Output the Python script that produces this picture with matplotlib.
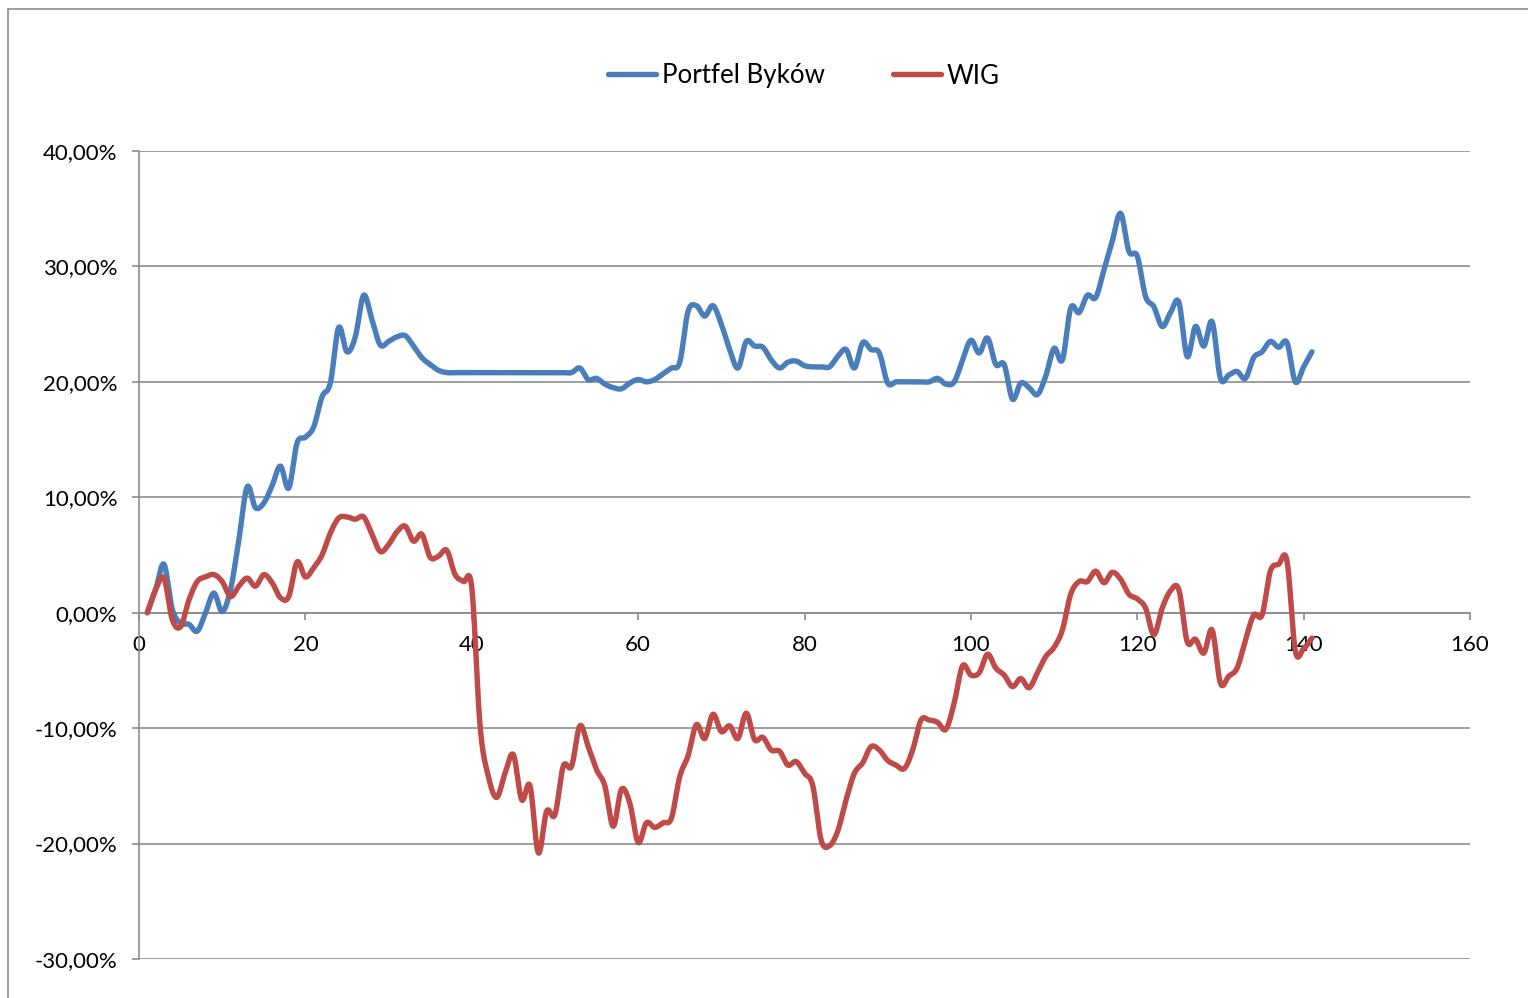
import numpy as np
import matplotlib
matplotlib.use("Agg")
import matplotlib.pyplot as plt
from matplotlib.patches import Rectangle

# ---- data (percent) ----
x_vals = list(range(1, 142))
portfel = [0.0, 2.0, 4.2, 0.3, -0.9, -1.0, -1.6, 0.0, 1.7, 0.1,
           2.0, 6.3, 10.9, 9.1, 9.5, 11.0, 12.7, 10.8, 14.7, 15.2,
           16.1, 18.7, 19.9, 24.7, 22.6, 23.9, 27.5, 25.4, 23.2, 23.5,
           23.9, 24.0, 23.1, 22.1, 21.5, 21.0, 20.8, 20.8, 20.8, 20.8,
           20.8, 20.8, 20.8, 20.8, 20.8, 20.8, 20.8, 20.8, 20.8, 20.8,
           20.8, 20.8, 21.2, 20.2, 20.3, 19.8, 19.5, 19.4, 19.9, 20.2,
           20.0, 20.2, 20.7, 21.2, 21.7, 26.1, 26.6, 25.7, 26.6, 25.0,
           22.8, 21.2, 23.5, 23.1, 23.0, 21.9, 21.2, 21.7, 21.8, 21.4,
           21.3, 21.3, 21.3, 22.2, 22.8, 21.2, 23.4, 22.8, 22.5, 19.9,
           20.0, 20.0, 20.0, 20.0, 20.0, 20.3, 19.8, 20.0, 21.9, 23.6,
           22.5, 23.8, 21.5, 21.5, 18.5, 19.9, 19.5, 18.9, 20.5, 22.9,
           21.9, 26.4, 26.0, 27.5, 27.3, 29.7, 32.2, 34.6, 31.3, 30.9,
           27.4, 26.5, 24.8, 26.0, 26.9, 22.2, 24.8, 23.1, 25.2, 20.3,
           20.6, 20.9, 20.3, 22.1, 22.6, 23.5, 23.0, 23.4, 20.0, 21.3,
           22.6]
wig = [0.0, 2.0, 3.0, -0.6, -1.2, 1.1, 2.7, 3.1, 3.3, 2.7,
       1.4, 2.3, 3.0, 2.3, 3.3, 2.6, 1.3, 1.4, 4.4, 3.1,
       3.9, 5.0, 6.9, 8.2, 8.3, 8.1, 8.3, 6.8, 5.3, 5.9,
       7.0, 7.5, 6.2, 6.8, 4.8, 4.9, 5.4, 3.3, 2.7, 2.2,
       -9.8, -14.2, -16.0, -13.9, -12.3, -16.2, -15.0, -20.8, -17.2, -17.5,
       -13.3, -13.3, -9.8, -11.6, -13.6, -15.0, -18.5, -15.3, -16.5, -19.9,
       -18.2, -18.6, -18.2, -17.8, -14.2, -12.4, -9.7, -10.9, -8.8, -10.3,
       -9.8, -10.9, -8.7, -11.0, -10.8, -11.9, -12.0, -13.2, -12.9, -13.9,
       -15.0, -19.7, -20.2, -18.9, -16.2, -13.9, -13.0, -11.6, -11.9, -12.8,
       -13.2, -13.5, -11.9, -9.3, -9.3, -9.5, -10.1, -7.8, -4.6, -5.4,
       -5.2, -3.6, -4.8, -5.4, -6.4, -5.7, -6.5, -5.2, -3.8, -3.0,
       -1.5, 1.6, 2.7, 2.7, 3.6, 2.6, 3.5, 2.9, 1.6, 1.2,
       0.4, -1.9, 0.4, 1.9, 2.0, -2.5, -2.3, -3.5, -1.5, -6.1,
       -5.5, -4.8, -2.4, -0.2, -0.2, 3.6, 4.2, 4.5, -3.3, -3.1,
       -2.2]
series_names = ["Portfel Byków", "WIG"]
x_ticks = [0, 20, 40, 60, 80, 100, 120, 140, 160]
y_ticks = [-30, -20, -10, 0, 10, 20, 30, 40]
y_tick_labels = ["-30,00%", "-20,00%", "-10,00%", "0,00%", "10,00%", "20,00%", "30,00%", "40,00%"]

colors = ["#4A7EBB", "#BE4B48"]


def smooth(xs, ys, n=20):
    """Catmull-Rom style Bezier smoothing (as Excel's smoothed lines)."""
    p = np.column_stack([np.asarray(xs, float), np.asarray(ys, float)])
    pts = np.vstack([p[0], p, p[-1]])
    out = []
    t = np.linspace(0, 1, n, endpoint=False)[:, None]
    for i in range(1, len(pts) - 2):
        P0 = pts[i]
        P3 = pts[i + 1]
        P1 = P0 + (pts[i + 1] - pts[i - 1]) / 6.0
        P2 = P3 - (pts[i + 2] - pts[i]) / 6.0
        seg = ((1 - t) ** 3) * P0 + 3 * ((1 - t) ** 2) * t * P1 + 3 * (1 - t) * t ** 2 * P2 + t ** 3 * P3
        out.append(seg)
    out.append(p[-1][None, :])
    c = np.vstack(out)
    return c[:, 0], c[:, 1]


plt.rcParams['font.family'] = ['Lato', 'DejaVu Sans']

fig = plt.figure(figsize=(15.28, 9.98), dpi=100)
fig.patches.append(Rectangle((8 / 1528, -0.01), 1.1, 1 - 9 / 998 + 0.01, transform=fig.transFigure,
                             fill=False, edgecolor="#8C8C8C", linewidth=1.2))

ax = fig.add_axes([139 / 1528, 1 - 959 / 998, (1470 - 139) / 1528, (959 - 151) / 998])
ax.set_xlim(0, 160)
ax.set_ylim(-30, 40)

for ys, name, col in zip([portfel, wig], series_names, colors):
    sx, sy = smooth(x_vals, ys)
    ax.plot(sx, sy, color=col, linewidth=3.9, label=name, zorder=3,
            solid_capstyle='round', solid_joinstyle='round')

ax.set_yticks(y_ticks)
ax.set_yticklabels(y_tick_labels)
ax.set_xticks(x_ticks)
ax.set_xticklabels([str(v) for v in x_ticks])

ax.grid(axis='y', color="#8C8C8C", linewidth=1.2)
ax.set_axisbelow(True)

for s in ['top', 'right']:
    ax.spines[s].set_visible(False)
ax.spines['bottom'].set_position(('data', 0))
ax.spines['bottom'].set_color("#8C8C8C")
ax.spines['bottom'].set_linewidth(1.2)
ax.spines['left'].set_color("#8C8C8C")
ax.spines['left'].set_linewidth(1.2)

ax.tick_params(axis='both', colors="#8C8C8C", labelcolor="black", labelsize=16, width=1.2)
ax.tick_params(axis='x', direction='out', length=5, pad=11)
ax.tick_params(axis='y', direction='out', length=5, pad=10.5)

leg = fig.legend(loc='center', bbox_to_anchor=(804 / 1528, 1 - 76 / 998), ncol=2, frameon=False,
                 fontsize=18.6, handlelength=1.85, handletextpad=0.22, columnspacing=2.65)
for h in leg.get_lines():
    h.set_solid_capstyle('round')

fig.savefig("out.png", dpi=100)
